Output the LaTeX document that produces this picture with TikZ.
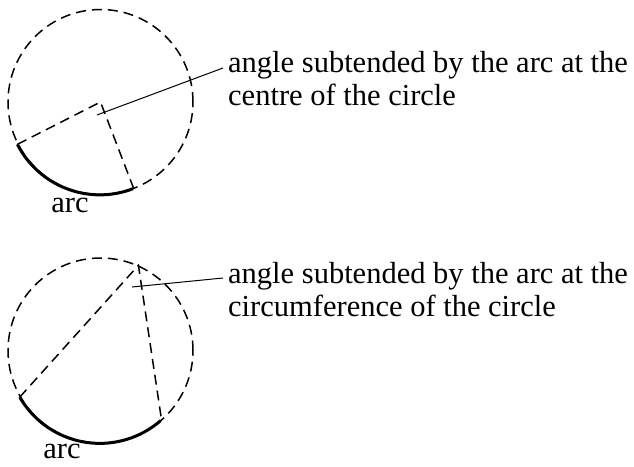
\documentclass[tikz,border=0pt]{standalone}
\usepackage{fontspec}
\setmainfont{Liberation Serif}
\usepackage{tikz}
\usetikzlibrary{positioning}

\begin{document}
\begin{tikzpicture}[
  x=1pt, y=-1pt,
  every node/.style={font=\fontsize{30.5}{33}\selectfont, inner sep=0pt},
  ring/.style={circle, draw, dashed, dash pattern=on 10pt off 6pt, line width=1.5pt, minimum size=185pt},
  chord/.style={dashed, dash pattern=on 10pt off 6pt, line width=1.5pt},
  arcline/.style={line width=3pt},
  leader/.style={line width=1pt}
]
  \useasboundingbox (0,0) rectangle (634,466);

  % centre of the circle
  \node[ring] (c1) at (100.5,102) {};
  \draw[arcline] (c1.207) arc[start angle=-207, end angle=-291, radius=92.5];
  \draw[chord] (c1.207) -- (c1.center) -- (c1.291);
  \node (a1) at (70,205) {arc};
  \node[anchor=north west, align=left] (t1) at (228,51)
    {angle subtended by the arc at the\\centre of the circle};
  \coordinate (p1) at (97,115);
  \coordinate (e1) at (223,68);
  \draw[leader] (p1) -- (e1);

  % circumference of the circle
  \node[ring] (c2) at (100.5,350.5) {};
  \draw[arcline] (c2.210) arc[start angle=-210, end angle=-311, radius=92.5];
  \draw[chord] (c2.210) -- (c2.66) -- (c2.311);
  \node (a2) at (62,451) {arc};
  \node[anchor=north west, align=left] (t2) at (228,262)
    {angle subtended by the arc at the\\circumference of the circle};
  \coordinate (p2) at (132,287);
  \coordinate (e2) at (223,278);
  \draw[leader] (p2) -- (e2);
\end{tikzpicture}
\end{document}
